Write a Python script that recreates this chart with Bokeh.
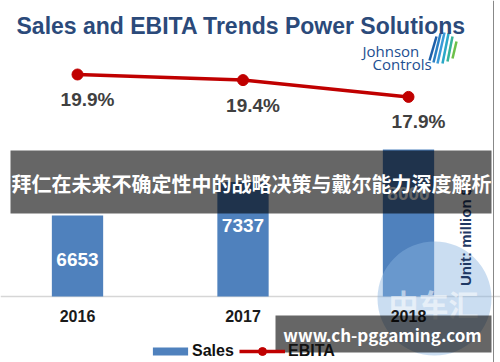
from bokeh.plotting import figure
from bokeh.models import (Range1d, ColumnDataSource, Label, BoxAnnotation, Span,
                          Legend, LegendItem)
from bokeh.core.properties import value
from bokeh.embed import file_html
from bokeh.resources import INLINE

# ---- data ----
years = [2016, 2017, 2018]
year_labels = ["2016", "2017", "2018"]
sales = [6653, 7337, 8000]
sales_labels = ["6653", "7337", "8000"]
ebita = [19.9, 19.4, 17.9]
ebita_labels = ["19.9%", "19.4%", "17.9%"]
sales_base = 5000

title_text = "Sales and EBITA Trends Power Solutions"
banner_text = "拜仁在未来不确定性中的战略决策与戴尔能力深度解析"
url_text = "www.ch-pggaming.com"
unit_text = "Unit: million $"

W, H = 500, 362
BLUE = "#4f81bd"
RED = "#c00000"
FONT = "Liberation Sans"
CJK = "Noto Sans CJK SC"

p = figure(width=W, height=H, output_backend="svg", toolbar_location=None,
           x_range=Range1d(2015.5347, 2018.5559), y_range=Range1d(3653.6, 11038.4),
           x_axis_location=None, y_axis_location=None,
           min_border=0, outline_line_color=None,
           background_fill_color="white", border_fill_color="white")
p.grid.visible = False
p.extra_y_ranges = {"ebita": Range1d(-5.814, 26.507), "px": Range1d(H, 0)}
p.extra_x_ranges = {"px": Range1d(0, W)}

src = ColumnDataSource(dict(year=years, year_label=year_labels, sales=sales,
                            sales_label=sales_labels, ebita=ebita,
                            ebita_label=ebita_labels, base=[sales_base] * len(years)))

# axis line
p.add_layout(Span(location=sales_base, dimension="width", line_color="#d6d6d6",
                  line_width=1.5, level="underlay"))

bars = p.vbar(x="year", top="sales", bottom=sales_base, width=0.31, source=src,
              fill_color=BLUE, line_color=None)
p.text(x="year", y="sales", text="sales_label", source=src, text_align="center",
       text_baseline="middle", y_offset=44, text_color="white",
       text_font=value(FONT), text_font_style="bold", text_font_size="19px")

# EBITA line
line_r = p.line(x="year", y="ebita", y_range_name="ebita", source=src,
                line_color=RED, line_width=3.5)
dot_r = p.scatter(x="year", y="ebita", y_range_name="ebita", source=src, size=11,
                  fill_color=RED, line_color=RED)
p.text(x="year", y="ebita", text="ebita_label", y_range_name="ebita", source=src,
       x_offset=10, y_offset=25, text_align="center", text_baseline="middle",
       text_color="#404040", text_font=value(FONT), text_font_style="bold",
       text_font_size="19px")

# watermark
p.circle(x=[434], y=[298], radius=57, x_range_name="px", y_range_name="px",
         fill_color="#8ab4e0", fill_alpha=0.45, line_color=None)
p.text(x=[433], y=[302], text=["中车汇"], x_range_name="px", y_range_name="px",
       text_align="center", text_baseline="middle", text_color="white",
       text_alpha=0.55, text_font=value(CJK), text_font_style="bold",
       text_font_size="30px")

# category labels
p.text(x="year", y="base", text="year_label", source=src, y_offset=19,
       text_align="center", text_baseline="middle", text_color="#1a1a1a",
       text_font=value(FONT), text_font_style="bold", text_font_size="16px")

# logo stripes
logo_colors = ["#1d5fa8", "#2a7fc4", "#3a9bd8", "#2aa8c8", "#35b39a", "#6cc04a"]
p.segment(x0=[429, 433, 437, 442, 447, 452], y0=[60, 62, 63, 63, 61, 58],
          x1=[436, 440, 444, 448, 452, 456], y1=[36, 33, 32, 33, 36, 41],
          x_range_name="px", y_range_name="px", line_color=logo_colors, line_width=2.5)

p.add_layout(Label(x=362, y=302, x_units="screen", y_units="screen", text="Johnson",
                   text_font="Open Sans", text_font_size="15px", text_color="#1d4f91"))
p.add_layout(Label(x=372, y=289, x_units="screen", y_units="screen", text="Controls",
                   text_font="Open Sans", text_font_size="15px", text_color="#1d4f91"))

# unit label
p.add_layout(Label(x=465, y=126, x_units="screen", y_units="screen", text=unit_text,
                   angle=90, angle_units="deg", text_align="center",
                   text_baseline="middle", text_font=FONT, text_font_style="bold",
                   text_font_size="15px", text_color="#1f3864"))

# title
p.add_layout(Label(x=16, y=337, x_units="screen", y_units="screen", text=title_text,
                   text_font=FONT, text_font_style="bold", text_font_size="23px",
                   text_color="#2b4a7a", text_baseline="alphabetic"))

# legends
leg1 = Legend(items=[LegendItem(label="Sales", renderers=[bars])], location=(148, 1),
              orientation="horizontal", glyph_width=44, glyph_height=10,
              label_standoff=0, padding=0, margin=0, border_line_color=None,
              background_fill_alpha=0, label_text_font=FONT,
              label_text_font_style="bold", label_text_font_size="16px",
              label_text_color="#111111", label_height=20)
leg2 = Legend(items=[LegendItem(label="EBITA", renderers=[line_r, dot_r])],
              location=(239, 1), orientation="horizontal", glyph_width=46,
              glyph_height=20, label_standoff=3, padding=0, margin=0,
              border_line_color=None, background_fill_alpha=0, label_text_font=FONT,
              label_text_font_style="bold", label_text_font_size="16px",
              label_text_color="#111111", label_height=20)
p.add_layout(leg1)
p.add_layout(leg2)

# banner overlay
p.add_layout(BoxAnnotation(left=10, right=491, bottom=149, top=212, left_units="screen",
                           right_units="screen", bottom_units="screen", top_units="screen",
                           fill_color="black", fill_alpha=0.6, line_color=None))
p.add_layout(Label(x=251, y=179, x_units="screen", y_units="screen", text=banner_text,
                   text_align="center", text_baseline="middle", text_font=CJK,
                   text_font_style="bold", text_font_size="20px", text_color="white"))

# url overlay
p.add_layout(BoxAnnotation(left=275, right=491, bottom=10, top=47, left_units="screen",
                           right_units="screen", bottom_units="screen", top_units="screen",
                           fill_color="black", fill_alpha=0.6, line_color=None))
p.add_layout(Label(x=382, y=28, x_units="screen", y_units="screen", text=url_text,
                   text_align="center", text_baseline="middle", text_font=CJK,
                   text_font_style="bold", text_font_size="17px", text_color="white"))

# right border
p.add_layout(Span(location=493, dimension="height", location_units="screen",
                  line_color="#888888", line_width=1))

open("out.html", "w").write(file_html(p, INLINE))
